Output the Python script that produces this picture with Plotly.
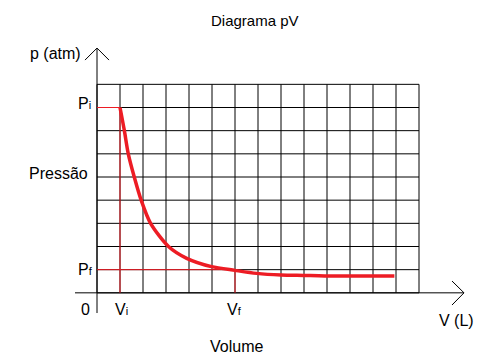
import plotly.graph_objects as go

# ---- data (grid units) ----
volume = [1.0, 1.19, 1.36, 1.62, 1.92, 2.33, 3.12, 3.9, 4.98, 6.0, 6.94, 8.0, 9.0, 9.9, 12.93]
pressure = [8.0, 7.0, 6.0, 5.0, 4.0, 3.0, 1.99, 1.49, 1.13, 0.97, 0.84, 0.77, 0.75, 0.73, 0.73]
V_i, P_i = 1.0, 8.0
V_f, P_f = 6.0, 1.0
n_cols, n_rows = 14, 9

title_text = "Diagrama pV"
x_title = "V (L)"
y_title = "p (atm)"
x_label = "Volume"
y_label = "Pressão"

RED = "#ed1c24"
FONT = "Liberation Sans, Arial, sans-serif"

# Page body has an 8px margin: the figure is shrunk by 16px and all
# screen-pixel positions below are measured on the final screenshot.
W, H = 477, 348
ML, MR, MT, MB = 66, 20, 30, 40
PLOT_L, PLOT_T = ML + 8, MT + 8          # screen px of plot area corner
PW, PH = W - ML - MR, H - MT - MB        # 391 x 278

# screen pixel -> data / paper helpers (layout only)
def X(px):
    return (px - 97) / 23.0

def Y(py):
    return (292.8 - py) / 23.17

def PXp(px):
    return (px - PLOT_L) / PW

def PYp(py):
    return (PLOT_T + PH - py) / PH

fig = go.Figure()

shapes = []
# grid
for i in range(n_cols + 1):
    shapes.append(dict(type="line", x0=i, x1=i, y0=0, y1=n_rows,
                       line=dict(color="black", width=1), layer="below"))
for j in range(n_rows + 1):
    shapes.append(dict(type="line", x0=0, x1=n_cols, y0=j, y1=j,
                       line=dict(color="black", width=1), layer="below"))

# axes with open arrow heads
ax_line = dict(color="black", width=1)
shapes.append(dict(type="line", x0=0, x1=0, y0=Y(313), y1=Y(48), line=ax_line))
shapes.append(dict(type="line", x0=X(85), x1=0, y0=Y(60), y1=Y(48), line=ax_line))
shapes.append(dict(type="line", x0=X(109), x1=0, y0=Y(60), y1=Y(48), line=ax_line))
shapes.append(dict(type="line", x0=X(75), x1=X(464), y0=0, y1=0, line=ax_line))
shapes.append(dict(type="line", x0=X(452), x1=X(464), y0=Y(281), y1=0, line=ax_line))
shapes.append(dict(type="line", x0=X(452), x1=X(464), y0=Y(305), y1=0, line=ax_line))

# red reference lines
red_line = dict(color=RED, width=1)
shapes += [
    dict(type="line", x0=0, x1=V_i, y0=P_i, y1=P_i, line=red_line),
    dict(type="line", x0=V_i, x1=V_i, y0=0, y1=P_i, line=red_line),
    dict(type="line", x0=0, x1=V_f, y0=P_f, y1=P_f, line=red_line),
    dict(type="line", x0=V_f, x1=V_f, y0=0, y1=P_f, line=red_line),
]

fig.add_trace(go.Scatter(x=volume, y=pressure, mode="lines",
                         line=dict(color=RED, width=3.5, shape="spline", smoothing=0.8),
                         hoverinfo="skip", showlegend=False))

def sub(main, s):
    return f"{main}<span style='font-size:11px'>{s}</span>"

ann = []
def add(text, px, py, size=16):
    ann.append(dict(text=text, x=PXp(px), y=PYp(py), xref="paper", yref="paper",
                    showarrow=False, xanchor="center", yanchor="middle",
                    font=dict(family=FONT, size=size, color="black")))

add(title_text, 254.5, 21, size=15)
add(y_title, 55, 54)
add(y_label, 58, 173)
add(x_label, 236.5, 346)
add(x_title, 456, 320)
add(sub("P", "i"), 84, 104)
add(sub("P", "f"), 85.5, 269)
add("0", 85.5, 309)
add(sub("V", "i"), 121, 309)
add(sub("V", "f"), 234, 309)

fig.update_layout(
    width=W, height=H,
    margin=dict(l=ML, r=MR, t=MT, b=MB),
    paper_bgcolor="white", plot_bgcolor="white",
    xaxis=dict(visible=False, range=[-1, 16], fixedrange=True),
    yaxis=dict(visible=False, range=[-1, 11], fixedrange=True),
    shapes=shapes, annotations=ann, showlegend=False,
)

fig.write_html("out.html")
